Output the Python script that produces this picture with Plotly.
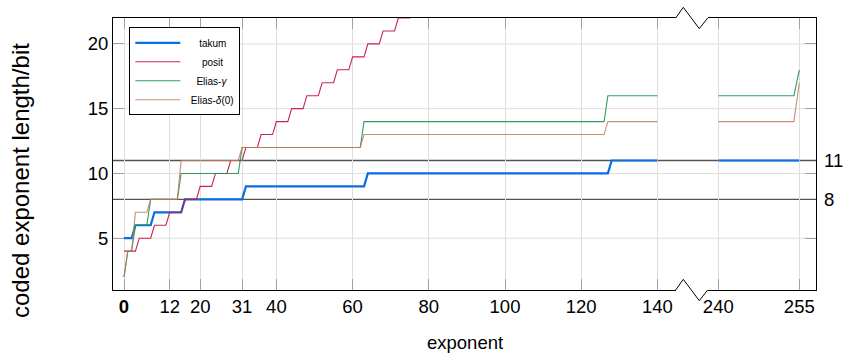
import plotly.graph_objects as go

# ---------------- data (vertices of the step lines) ----------------
x_ticks_left = [0, 12, 20, 31, 40, 60, 80, 100, 120, 140]
x_ticklabels_left = ["<b>0</b>", "12", "20", "31", "40", "60", "80", "100", "120", "140"]
x_ticks_right = [240, 255]
x_ticklabels_right = ["240", "255"]
y_ticks = [5, 10, 15, 20]
ref_levels = [8, 11]
ref_labels = ["8", "11"]

takum_x = [0, 2, 3, 7, 8, 15, 16, 31, 32, 63, 64, 127, 128, 140]
takum_y = [5, 5, 6, 6, 7, 7, 8, 8, 9, 9, 10, 10, 11, 11]
takum_x_hi = [240, 255]
takum_y_hi = [11, 11]

posit_x = [0, 3, 4, 7, 8, 11, 12, 15, 16, 19, 20, 23, 24, 27, 28, 31, 32, 35, 36, 39,
           40, 43, 44, 47, 48, 51, 52, 55, 56, 59, 60, 63, 64, 67, 68, 71, 72, 75, 76]
posit_y = [4, 4, 5, 5, 6, 6, 7, 7, 8, 8, 9, 9, 10, 10, 11, 11, 12, 12, 13, 13,
           14, 14, 15, 15, 16, 16, 17, 17, 18, 18, 19, 19, 20, 20, 21, 21, 22, 22, 23]

gamma_x = [0, 1, 2, 3, 6, 7, 14, 15, 30, 31, 62, 63, 126, 127, 140]
gamma_y = [2, 4, 4, 6, 6, 8, 8, 10, 10, 12, 12, 14, 14, 16, 16]
gamma_x_hi = [240, 254, 255]
gamma_y_hi = [16, 16, 18]

delta_x = [0, 1, 2, 3, 6, 7, 14, 15, 30, 31, 62, 63, 126, 127, 140]
delta_y = [2, 4, 4, 7, 7, 8, 8, 11, 11, 12, 12, 13, 13, 14, 14]
delta_x_hi = [240, 254, 255]
delta_y_hi = [14, 14, 17]

legend_names = ["takum", "posit", "Elias-<i>γ</i>", "Elias-<i>δ</i>(0)"]
legend_pads = [5, 6, 4, 2]

# ---------------- style ----------------
FONT = "Liberation Sans"
C_TAKUM = "#0a6fe0"
C_POSIT = "#cc1845"
C_GAMMA = "#1b9450"
C_DELTA = "#c27b54"
GRID = "#dedede"
TICK = "#a0a0a0"

W, H = 847, 354
ML, MR, MT, MB = 113, 31, 18, 64
PW = W - ML - MR
PH = H - MT - MB


def px_x(p):
    return (p - ML) / PW


def px_y(p):
    return (H - MB - p) / PH


dom1 = [0, px_x(675.7)]
dom2 = [px_x(707.7), 1]

fig = go.Figure()

series = [
    (takum_x, takum_y, takum_x_hi, takum_y_hi, C_TAKUM, 2.2, 1.0),
    (posit_x, posit_y, None, None, C_POSIT, 1.1, 0.95),
    (gamma_x, gamma_y, gamma_x_hi, gamma_y_hi, C_GAMMA, 1.1, 0.9),
    (delta_x, delta_y, delta_x_hi, delta_y_hi, C_DELTA, 1.1, 0.85),
]
for (xs, ys, xh, yh, col, lw, op), nm, pad in zip(series, legend_names, legend_pads):
    fig.add_trace(go.Scatter(x=xs, y=ys, mode="lines", name="\u00a0" * pad + nm,
                             opacity=op, line=dict(color=col, width=lw),
                             xaxis="x", yaxis="y"))
for (xs, ys, xh, yh, col, lw, op), nm in zip(series, legend_names):
    if xh is not None:
        fig.add_trace(go.Scatter(x=xh, y=yh, mode="lines", name=nm, opacity=op,
                                 showlegend=False,
                                 line=dict(color=col, width=lw), xaxis="x2", yaxis="y2"))

axis_common = dict(ticks="inside", ticklen=11, tickcolor=TICK, tickwidth=1,
                   showline=True, linecolor="black", linewidth=1, zeroline=False,
                   tickfont=dict(family=FONT, size=18.5, color="black"))

fig.update_layout(
    width=W, height=H,
    margin=dict(l=ML, r=MR, t=MT, b=MB),
    paper_bgcolor="white", plot_bgcolor="white",
    font=dict(family=FONT, color="black"),
    xaxis=dict(domain=dom1, range=[-2.887, 144.8], tickvals=x_ticks_left,
               ticktext=x_ticklabels_left, anchor="y", mirror="ticks",
               showgrid=True, gridcolor=GRID, gridwidth=1, **axis_common),
    xaxis2=dict(domain=dom2, range=[238.04, 258.09], tickvals=x_ticks_right,
                ticktext=x_ticklabels_right, anchor="y2", mirror="ticks",
                showgrid=True, gridcolor=GRID, gridwidth=1, **axis_common),
    yaxis=dict(domain=[0, 1], range=[1, 22], tickvals=y_ticks, anchor="x",
               side="left", mirror=False, showgrid=False, **axis_common),
    yaxis2=dict(domain=[0, 1], range=[1, 22], tickvals=y_ticks, anchor="x2",
                side="right", mirror=False, showgrid=False, showticklabels=False,
                **axis_common),
    showlegend=True,
    legend=dict(x=px_x(129.3), y=px_y(27.3), xanchor="left", yanchor="top",
                bgcolor="white", bordercolor="black", borderwidth=1,
                itemwidth=45,
                font=dict(family=FONT, size=10, color="black"),
                tracegroupgap=0),
)

shapes = []
for v in y_ticks:
    shapes.append(dict(type="line", xref="paper", yref="y", x0=0, x1=1, y0=v, y1=v,
                       line=dict(color=GRID, width=1), layer="below"))
for v in ref_levels:
    shapes.append(dict(type="line", xref="paper", yref="y", x0=0, x1=1, y0=v, y1=v,
                       line=dict(color="#555555", width=1.3), layer="below"))
# axis-break zigzags on top and bottom frame
zx = [px_x(675.7), px_x(683.3), px_x(699.3), px_x(707.7)]
zd = 10.7 / PH
for base in (1.0, 0.0):
    path = "M{:.4f},{:.4f} L{:.4f},{:.4f} L{:.4f},{:.4f} L{:.4f},{:.4f}".format(
        zx[0], base, zx[1], base + zd, zx[2], base - zd, zx[3], base)
    shapes.append(dict(type="path", xref="paper", yref="paper", path=path,
                       line=dict(color="black", width=1)))
fig.update_layout(shapes=shapes)

annotations = []
for v, t in zip(ref_levels, ref_labels):
    annotations.append(dict(xref="paper", yref="y", x=1, y=v, text=t, showarrow=False,
                            xanchor="left", yanchor="middle", xshift=6,
                            font=dict(family=FONT, size=18.5, color="black")))
annotations.append(dict(xref="paper", yref="paper", x=0.5, y=px_y(342.5), text="exponent",
                        showarrow=False, xanchor="center", yanchor="middle",
                        font=dict(family=FONT, size=18.5, color="black")))
annotations.append(dict(xref="paper", yref="paper", x=px_x(20), y=px_y(181),
                        text="coded exponent length/bit", textangle=-90,
                        showarrow=False, xanchor="center", yanchor="middle",
                        font=dict(family=FONT, size=24, color="black")))
fig.update_layout(annotations=annotations)

fig.write_html("out.html", config={"displayModeBar": False},
               post_script="document.body.style.margin='0px';")
